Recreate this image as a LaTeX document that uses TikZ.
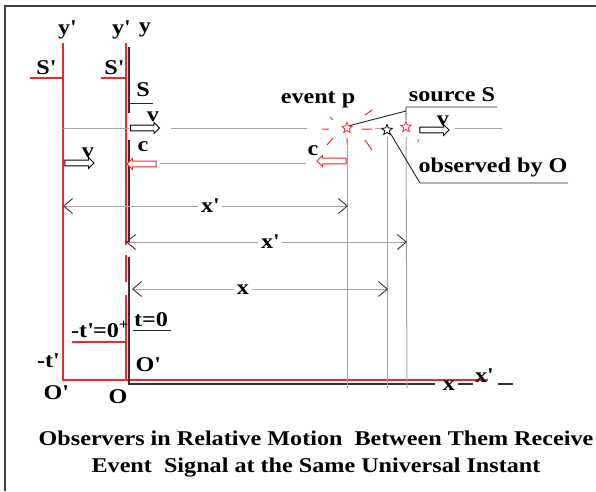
\documentclass[tikz,border=0pt]{standalone}
\usepackage{fontspec}
\setmainfont{Liberation Serif}[FakeStretch=1.15]
\usetikzlibrary{arrows.meta,shapes.geometric,shapes.arrows}
\definecolor{linered}{RGB}{240,40,40}
\definecolor{linegray}{RGB}{165,165,165}
\newcommand{\prm}{\textquotesingle}

\begin{document}
\begin{tikzpicture}[x=1pt,y=-1pt,
  lbl/.style={font=\fontsize{21}{24}\selectfont\bfseries, inner sep=0pt},
  redline/.style={draw=linered, line width=1.3pt},
  blkline/.style={draw=black!80, line width=1.6pt},
  thinline/.style={draw=black!85, line width=0.9pt},
  grayline/.style={draw=linegray, line width=1pt},
  distbarb/.tip={Straight Barb[length=9pt,width=15pt,line width=0.9pt,color=black!80]},
  dist/.style={grayline, distbarb-distbarb},
  hollow/.style={single arrow, draw, fill=white, line width=0.9pt, minimum height=29pt,
    minimum width=10pt, single arrow head extend=2.6pt, inner xsep=0pt, inner ysep=2.4pt},
  starmark/.style={star, star points=5, star point ratio=2.2, draw, line width=0.8pt,
    minimum size=11pt, inner sep=0pt}]
\useasboundingbox (0,0) rectangle (596,491);
\draw[black!75, line width=1.6pt] (5,491) -- (5,6) -- (596,6);

% frames of the two observers
\coordinate (Oleft) at (63,380);
\coordinate (Omove) at (126,380);
\coordinate (Orest) at (129,384);
\draw[redline] (63,43) -- (Oleft) -- (488,380);
\draw[redline] (126,43) -- (126,245) (126,255) -- (126,282) (126,295) -- (Omove);
\draw[blkline] (129,47) -- (129,113) (129,140) -- (129,243) (129,257) -- (Orest) -- (435,384);
\draw[blkline] (458,384) -- (473,384) (498,384) -- (513,384);
\draw[redline] (30,78) -- (63,78) (101,78) -- (126,78) (72,342) -- (126,342);
\draw[thinline] (129,103) -- (153,103) (133,330) -- (171,330);

% light rays and moving source
\coordinate (evp) at (347,128);
\coordinate (obs) at (387,130);
\coordinate (src) at (406,127);
\draw[grayline] (63,128) -- (129,128) (171,128) -- (307,128) (375,128) -- (381,128) (455,128) -- (502,128);
\draw[grayline] (160,163) -- (306,163);
\draw[grayline] (evp) ++(0,18) -- (347,388);
\draw[grayline] (obs) ++(0,7) -- (387,388);
\draw[grayline] (src) ++(0,10) -- (407,388);
\draw[linered, line width=1pt] (322,129) -- (329,129) (362,129) -- (372,129)
  (330,117) -- (333,120) (365,115) -- (372,110) (333,138) -- (327,145)
  (347,138) -- (347,145) (365,140) -- (372,150) (418,139) -- (418,142);
\node[starmark, draw=linered] (starp) at (evp) {};
\node[starmark, draw=black] (staro) at (obs) {};
\node[starmark, draw=linered] (stars) at (src) {};

\node[hollow] (vtoparr) at (143.5,128) {};
\node[hollow] (vlftarr) at (78,163) {};
\node[hollow] (vrgtarr) at (433,130) {};
\node[hollow, draw=linered, shape border rotate=180] (clftarr) at (143,164) {};
\node[hollow, draw=linered, shape border rotate=180] (crgtarr) at (333,161) {};

% labels
\node[lbl] (ylft) at (67,30) {y\prm};
\node[lbl] (ymov) at (121,30) {y\prm};
\node[lbl] (yrest) at (145,30) {y};
\node[lbl] (Slft) at (46,68) {S\prm};
\node[lbl] (Smov) at (114,68) {S\prm};
\node[lbl] (Srest) at (143,90) {S};
\node[lbl] (vtop) at (153,117) {v};
\node[lbl] (clft) at (143,147) {c};
\node[lbl] (vlft) at (88,153) {v};
\node[lbl] (evlbl) at (318,100) {event p};
\node[lbl] (srclbl) at (452,95) {source S};
\node[lbl] (vrgt) at (443,121) {v};
\node[lbl] (crgt) at (313,151) {c};
\node[lbl] (obslbl) at (493,167) {observed by O};
\node[lbl, anchor=base west] (tmov) at (71,337) {-t\prm=0\textsuperscript{+}};
\node[lbl] (tzero) at (151,320) {t=0};
\node[lbl] (tlft) at (48,361) {-t\prm};
\node[lbl] (Ommov) at (148,365) {O\prm};
\node[lbl] (Oplft) at (56,393) {O\prm};
\node[lbl] (Olbl) at (118,397) {O};
\node[lbl] (xax) at (449,386) {x};
\node[lbl] (xpax) at (484,376) {x\prm};

% pointers
\draw[thinline] (406,107) -- (497,107) (406,107) -- (stars.north) (406,111) -- (starp.north east);
\draw[thinline] (568,183) -- (420,183) -- (staro.south east);

% distances
\coordinate (dA1) at (63,206);   \coordinate (dA2) at (348,206);
\coordinate (dB1) at (126,242);  \coordinate (dB2) at (407,242);
\coordinate (dC1) at (132,289);  \coordinate (dC2) at (388,289);
\draw[dist] (dA1) -- (dA2);
\draw[dist] (dB1) -- (dB2);
\draw[dist] (dC1) -- (dC2);
\node[lbl, fill=white, inner xsep=3pt] (xpA) at (210,206) {x\prm};
\node[lbl, fill=white, inner xsep=3pt] (xpB) at (270,242) {x\prm};
\node[lbl, fill=white, inner xsep=3pt] (xC) at (243,290) {x};

\node[lbl, font=\fontsize{21}{27}\selectfont\bfseries, align=center] (caption) at (316,454)
  {Observers in Relative Motion~ Between Them Receive\\Event~ Signal at the Same Universal Instant};
\end{tikzpicture}
\end{document}
